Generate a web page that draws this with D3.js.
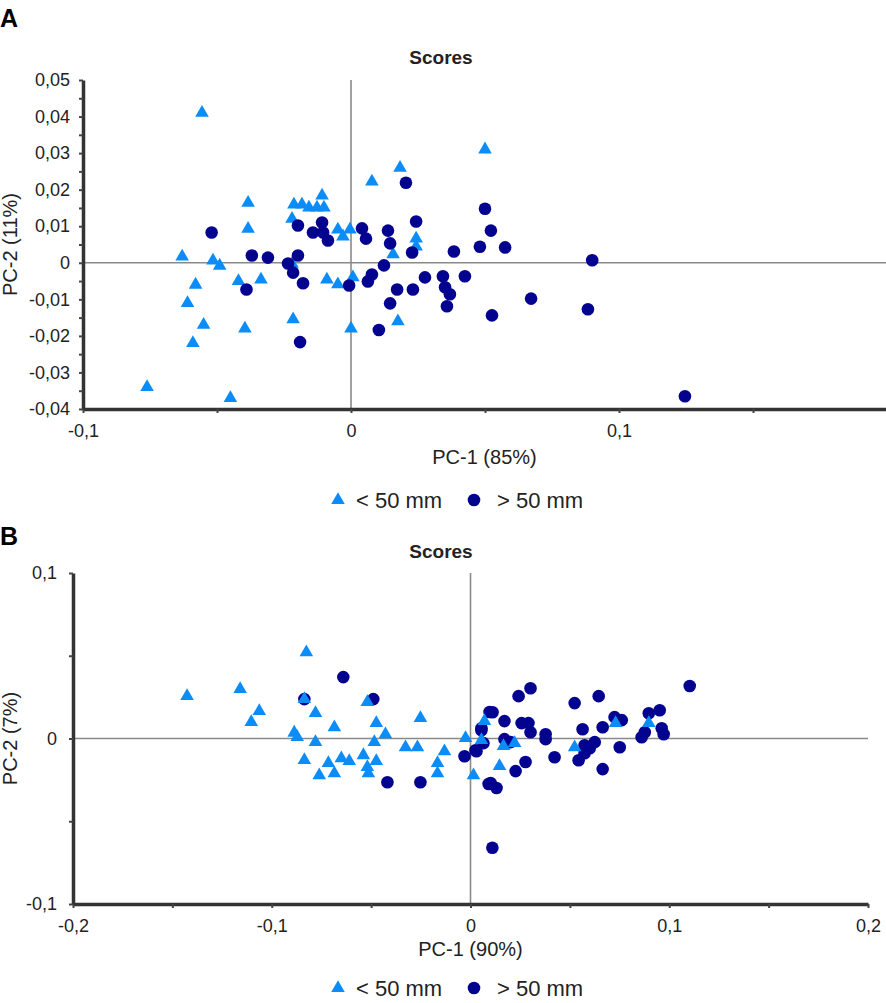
<!DOCTYPE html>
<html>
<head>
<meta charset="utf-8">
<script src="https://cdn.jsdelivr.net/npm/d3@7"></script>
<style>
  body { margin: 0; background: #fff; }
  text { font-family: "Liberation Sans", Arial, sans-serif; fill: #222; }
</style>
</head>
<body>
<script>
// Panel A data (PC-1, PC-2)
var aSmall = [
  [-0.0761,-0.034],[-0.063,0.0017],[-0.061,-0.011],[-0.058,-0.006],[-0.059,-0.022],
  [-0.055,-0.017],[-0.0556,0.041],[-0.0515,0.0006],[-0.049,-0.0008],[-0.045,-0.037],
  [-0.042,-0.005],[-0.0396,-0.018],[-0.0384,0.0093],[-0.0384,0.0164],[-0.0336,-0.0046],
  [-0.022,0.012],[-0.0216,-0.0155],[-0.0213,0.0159],[-0.0183,0.0159],[-0.0157,0.0151],
  [-0.0127,0.0151],[-0.0108,0.0184],[-0.0101,0.0151],[-0.009,-0.0046],[-0.0049,0.0091],
  [-0.003,0.0072],[-0.0049,-0.0059],[-0.0004,0.0091],[0.0007,-0.004],[0,-0.018],
  [0.0078,0.0222],[0.0183,0.026],[0.05,0.031],[0.0243,0.0066],[0.0243,0.0044],
  [0.0157,0.0023],[0.0175,-0.016],[-0.022,-0.0003]
];
var aLarge = [
  [-0.052,0.0083],[-0.037,0.002],[-0.031,0.0014],[-0.0198,0.0102],[-0.0198,0.002],
  [-0.0142,0.0083],[-0.0108,0.011],[-0.0104,0.0083],[-0.0086,0.0061],[-0.0235,-0.0002],
  [-0.0216,-0.0027],[-0.0179,-0.0056],[-0.039,-0.0073],[-0.019,-0.0217],[-0.0007,-0.0062],
  [0.0041,0.0094],[0.0056,0.0066],[0.0205,0.0219],[0.0138,0.0088],[0.0146,0.0053],
  [0.0243,0.0113],[0.0228,0.0028],[0.0384,0.0031],[0.0481,0.0044],[0.0575,0.0042],
  [0.05,0.0148],[0.0522,0.0088],[0.0123,-0.0007],[0.0078,-0.0032],[0.0063,-0.0051],
  [0.0172,-0.0073],[0.0231,-0.0073],[0.0276,-0.004],[0.0343,-0.0037],[0.0425,-0.0037],
  [0.0351,-0.0067],[0.0369,-0.0086],[0.0358,-0.0119],[0.0146,-0.0111],[0.0104,-0.0184],
  [0.0526,-0.0144],[0.0672,-0.0098],[0.09,0.0007],[0.0884,-0.0127],[0.1246,-0.0365]
];

// Panel B data (PC-1, PC-2)
var bSmall = [
  [-0.1426,0.0256],[-0.1159,0.0298],[-0.1063,0.0165],[-0.1103,0.0099],[-0.0887,0.0035],
  [-0.0826,0.052],[-0.0872,0.0008],[-0.078,0.0154],[-0.0836,0.0238],[-0.078,-0.0022],
  [-0.0836,-0.0131],[-0.0685,0.0068],[-0.0715,-0.0149],[-0.0761,-0.0222],[-0.0685,-0.021],
  [-0.065,-0.012],[-0.061,-0.0137],[-0.0539,-0.0101],[-0.0519,0.022],[-0.0474,0.0093],
  [-0.0484,-0.0022],[-0.0428,0.0025],[-0.0474,-0.0137],[-0.0519,-0.0173],[-0.0514,-0.021],
  [-0.0327,-0.0053],[-0.0267,-0.0053],[-0.0252,0.0123],[-0.0131,-0.0077],[-0.0166,-0.0149],
  [-0.0166,-0.021],[-0.0025,0.0002],[0.0015,-0.0222],[0.007,0.0105],[0.0055,-0.001],
  [0.0146,-0.0167],[0.0166,-0.0046],[0.0222,-0.0028],[0.0524,-0.0053],[0.073,0.0093],
  [0.0897,0.0093]
];
var bLarge = [
  [-0.064,0.0371],[-0.0836,0.0238],[-0.0489,0.0238],[-0.0418,-0.0264],[-0.0252,-0.0264],
  [-0.003,-0.0107],[0.0025,-0.0071],[0.0055,0.0062],[0.0096,0.016],[0.0091,-0.0275],
  [0.011,-0.066],[0.0111,0.0159],[0.0242,0.0256],[0.0302,0.0304],[0.0171,0.0105],
  [0.0257,0.0093],[0.0292,0.0093],[0.0302,0.0038],[0.0378,0.0026],[0.0378,-0.0004],
  [0.0171,-0.0004],[0.0202,-0.0022],[0.0055,0.005],[0.0065,-0.0028],[0.003,-0.0077],
  [0.0277,-0.0142],[0.0227,-0.0197],[0.0423,-0.0113],[0.0101,-0.0269],[0.0131,-0.0299],
  [0.0524,0.0214],[0.0645,0.0256],[0.0564,0.0056],[0.0665,0.0068],[0.0725,0.0129],
  [0.0761,0.0111],[0.0751,-0.0053],[0.0574,-0.0041],[0.06,-0.0059],[0.0625,-0.0022],
  [0.0574,-0.0089],[0.0544,-0.0131],[0.0665,-0.0185],[0.0897,0.0153],[0.0952,0.0171],
  [0.0962,0.0062],[0.0972,0.0026],[0.0861,0.0008],[0.0877,0.0038],[0.1103,0.0317]
];

// axis ticks
var aXMajor = [-0.1, 0, 0.1];
var aXMinor = [-0.05, 0.05, 0.15];
var aYMajor = [-0.04, -0.03, -0.02, -0.01, 0, 0.01, 0.02, 0.03, 0.04, 0.05];
var aYMinor = [-0.035, -0.025, -0.015, -0.005, 0.005, 0.015, 0.025, 0.035, 0.045];
var bXMajor = [-0.2, -0.1, 0, 0.1, 0.2];
var bXMinor = [-0.15, -0.05, 0.05, 0.15];
var bYMajor = [-0.1, 0, 0.1];
var bYMinor = [-0.05, 0.05];

var legendLabels = ["< 50 mm", "> 50 mm"];
var colSmall = "#0b8cf7";
var colLarge = "#03038f";

var W = 886, H = 1003;
var fmt = d3.formatLocale({decimal: ",", thousands: ".", grouping: [3], currency: ["", ""], minus: "-"}).format(".2~f");

var svg = d3.select("body").append("svg")
    .attr("width", W)
    .attr("height", H);

function panel(o) {
  var g = svg.append("g");
  var x = d3.scaleLinear().domain(o.xDomain).range(o.xRange);
  var y = d3.scaleLinear().domain(o.yDomain).range(o.yRange);

  // panel letter
  g.append("text").attr("x", 0).attr("y", o.letterY)
    .attr("font-size", "25px").attr("font-weight", "bold").style("fill", "#000")
    .text(o.letter);

  g.append("text").attr("x", 441).attr("y", o.titleY)
    .attr("text-anchor", "middle").attr("font-size", "19px").attr("font-weight", "bold")
    .text("Scores");

  // zero lines
  g.append("line").attr("x1", x.range()[0]).attr("x2", x.range()[1])
    .attr("y1", y(0)).attr("y2", y(0))
    .attr("stroke", "#8a8a8a").attr("stroke-width", 1.6);
  g.append("line").attr("x1", x(0)).attr("x2", x(0))
    .attr("y1", y.range()[0]).attr("y2", y.range()[1])
    .attr("stroke", "#8a8a8a").attr("stroke-width", 1.6);

  var xAxis = d3.axisBottom(x)
    .tickValues(o.xMajor.concat(o.xMinor))
    .tickFormat(function(d) { return o.xMajor.indexOf(d) >= 0 ? fmt(d) : ""; })
    .tickSize(4).tickSizeOuter(0).tickPadding(11);
  var yAxis = d3.axisLeft(y)
    .tickValues(o.yMajor.concat(o.yMinor))
    .tickFormat(function(d) { return o.yMajor.indexOf(d) >= 0 ? fmt(d) : ""; })
    .tickSize(4).tickSizeOuter(0).tickPadding(o.yPad);

  var gx = g.append("g").attr("transform", "translate(0," + y.range()[0] + ")").call(xAxis);
  var gy = g.append("g").attr("transform", "translate(" + x.range()[0] + ",0)").call(yAxis);
  [gx, gy].forEach(function(a) {
    a.attr("font-size", 18).attr("font-family", "Liberation Sans, Arial, sans-serif");
    a.select(".domain").attr("stroke", "#333").attr("stroke-width", 3.5);
    a.selectAll(".tick line").attr("stroke", "#444").attr("stroke-width", 2);
    a.selectAll(".tick text").attr("font-size", "18px").style("fill", "#222");
  });

  // axis titles
  g.append("text").attr("x", (x.range()[0] + o.xTitleRight) / 2).attr("y", o.xTitleY)
    .attr("text-anchor", "middle").attr("font-size", "20px")
    .text(o.xTitle);
  g.append("text")
    .attr("transform", "translate(17," + (y.range()[0] + y.range()[1]) / 2 + ") rotate(-90)")
    .attr("text-anchor", "middle").attr("font-size", "20px")
    .text(o.yTitle);

  var tri = d3.symbol().type(d3.symbolTriangle).size(80);
  function drawSmall() {
    g.selectAll(null).data(o.small).enter().append("path")
      .attr("d", tri)
      .attr("transform", function(d) { return "translate(" + x(d[0]) + "," + y(d[1]) + ")"; })
      .attr("fill", colSmall);
  }
  function drawLarge() {
    g.selectAll(null).data(o.large).enter().append("circle")
      .attr("cx", function(d) { return x(d[0]); })
      .attr("cy", function(d) { return y(d[1]); })
      .attr("r", 6.3)
      .attr("fill", colLarge);
  }
  if (o.smallFirst) { drawSmall(); drawLarge(); } else { drawLarge(); drawSmall(); }

  // legend
  var lg = g.append("g").attr("transform", "translate(0," + o.legendY + ")");
  lg.append("path").attr("d", tri).attr("transform", "translate(338,0)").attr("fill", colSmall);
  lg.append("text").attr("x", 356).attr("y", 8).attr("font-size", "22px").text(legendLabels[0]);
  lg.append("circle").attr("cx", 474).attr("cy", 0).attr("r", 6.3).attr("fill", colLarge);
  lg.append("text").attr("x", 497).attr("y", 8).attr("font-size", "22px").text(legendLabels[1]);
}

panel({
  letter: "A", letterY: 27, titleY: 64,
  xDomain: [-0.1, 0.2], xRange: [83, 887],
  yDomain: [-0.04, 0.05], yRange: [409, 80],
  xMajor: aXMajor, xMinor: aXMinor, yMajor: aYMajor, yMinor: aYMinor, yPad: 9,
  xTitle: "PC-1 (85%)", xTitleY: 464, xTitleRight: 886,
  yTitle: "PC-2 (11%)",
  small: aSmall, large: aLarge, smallFirst: true,
  legendY: 500
});

panel({
  letter: "B", letterY: 545, titleY: 558,
  xDomain: [-0.2, 0.2], xRange: [73, 868],
  yDomain: [-0.1, 0.1], yRange: [904, 573],
  xMajor: bXMajor, xMinor: bXMinor, yMajor: bYMajor, yMinor: bYMinor, yPad: 12,
  xTitle: "PC-1 (90%)", xTitleY: 956, xTitleRight: 868,
  yTitle: "PC-2 (7%)",
  small: bSmall, large: bLarge, smallFirst: false,
  legendY: 988
});
</script>
</body>
</html>
